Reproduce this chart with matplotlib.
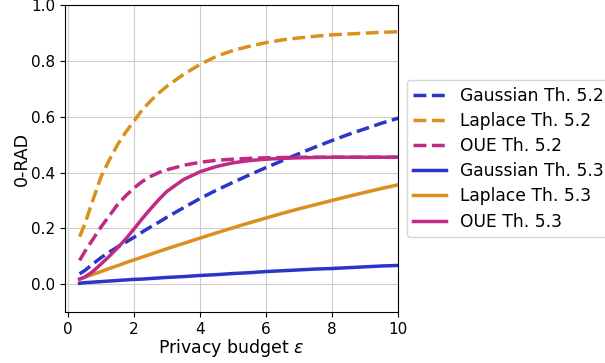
import numpy as np
from matplotlib import pyplot as plt

# privacy budget values and 0-RAD curves for each mechanism
eps = [0.35, 0.5, 0.75, 1.0, 1.25, 1.5, 1.75, 2.0, 2.25, 2.5, 2.75, 3.0, 3.5,
       4.0, 4.5, 5.0, 5.5, 6.0, 6.5, 7.0, 7.5, 8.0, 8.5, 9.0, 9.5, 10.0]

gauss_52 = [0.037, 0.048, 0.072, 0.095, 0.115, 0.133, 0.15, 0.168, 0.187, 0.205, 0.222, 0.24, 0.274,
            0.307, 0.337, 0.365, 0.392, 0.418, 0.443, 0.468, 0.492, 0.515, 0.537, 0.557, 0.577, 0.595]
laplace_52 = [0.17, 0.213, 0.30, 0.385, 0.445, 0.50, 0.545, 0.585, 0.625, 0.657, 0.685, 0.71, 0.752,
              0.788, 0.817, 0.838, 0.853, 0.866, 0.876, 0.883, 0.889, 0.894, 0.897, 0.90, 0.903, 0.905]
oue_52 = [0.085, 0.115, 0.16, 0.205, 0.245, 0.285, 0.317, 0.345, 0.368, 0.386, 0.40, 0.41, 0.426,
          0.437, 0.444, 0.448, 0.451, 0.453, 0.454, 0.455, 0.455, 0.455, 0.455, 0.455, 0.455, 0.455]

gauss_53 = [0.003, 0.005, 0.007, 0.009, 0.011, 0.013, 0.015, 0.017, 0.018, 0.02, 0.022, 0.024, 0.027,
            0.031, 0.034, 0.038, 0.041, 0.045, 0.048, 0.051, 0.054, 0.056, 0.059, 0.062, 0.065, 0.067]
laplace_53 = [0.018, 0.024, 0.035, 0.045, 0.056, 0.066, 0.077, 0.087, 0.097, 0.107, 0.117, 0.127, 0.146,
              0.165, 0.184, 0.202, 0.22, 0.237, 0.254, 0.27, 0.285, 0.30, 0.315, 0.329, 0.343, 0.356]
oue_53 = [0.018, 0.025, 0.045, 0.072, 0.10, 0.13, 0.162, 0.198, 0.235, 0.27, 0.303, 0.333, 0.375,
          0.403, 0.422, 0.435, 0.443, 0.448, 0.451, 0.453, 0.454, 0.455, 0.455, 0.455, 0.455, 0.455]

blue = '#2b35c8'
orange = '#db901e'
magenta = '#c02a85'

fig = plt.figure(figsize=(6.05, 3.63), dpi=100)
ax = fig.add_axes([0.107, 0.1405, 0.551, 0.845])

ax.plot(eps, gauss_52, '--', color=blue, lw=2.5, label='Gaussian Th. 5.2')
ax.plot(eps, laplace_52, '--', color=orange, lw=2.5, label='Laplace Th. 5.2')
ax.plot(eps, oue_52, '--', color=magenta, lw=2.5, label='OUE Th. 5.2')
ax.plot(eps, gauss_53, '-', color=blue, lw=2.5, label='Gaussian Th. 5.3')
ax.plot(eps, laplace_53, '-', color=orange, lw=2.5, label='Laplace Th. 5.3')
ax.plot(eps, oue_53, '-', color=magenta, lw=2.5, label='OUE Th. 5.3')

ax.set_xlim(-0.1, 10)
ax.set_ylim(-0.1, 1.0)
ax.set_xticks([0, 2, 4, 6, 8, 10])
ax.set_yticks([0.0, 0.2, 0.4, 0.6, 0.8, 1.0])
ax.grid(True, color='#cccccc', lw=0.8)
ax.tick_params(labelsize=11)
ax.set_xlabel(r'Privacy budget $\varepsilon$', fontsize=12.5, labelpad=0)
ax.set_ylabel('0-RAD', fontsize=12.5, labelpad=0)

ax.legend(loc='center left', bbox_to_anchor=(1.0, 0.5), fontsize=12.3,
          labelspacing=0.42, handlelength=1.9)

fig.savefig('out.png', dpi=100)
